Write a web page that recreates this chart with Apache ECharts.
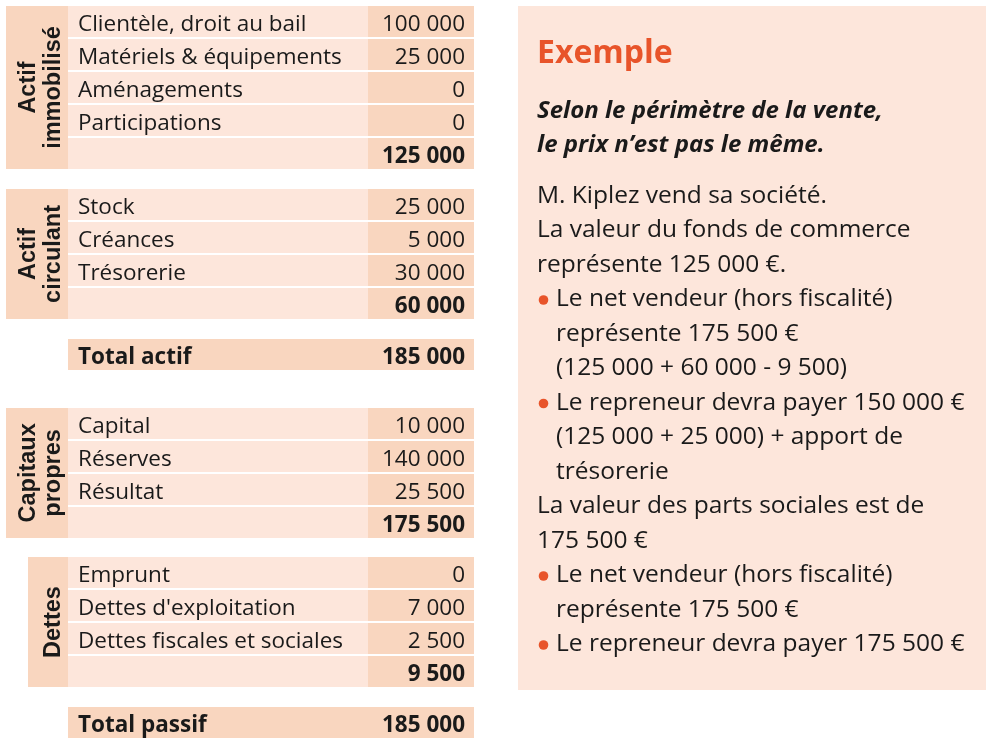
<!DOCTYPE html>
<html><head><meta charset="utf-8">
<script src="https://cdn.jsdelivr.net/npm/echarts@6/dist/echarts.min.js"></script>
<style>html,body{margin:0;padding:0;background:#fff}#c{width:995px;height:746px}</style>
</head><body><div id="c"></div>
<script>
// ---------- data ----------
const sectionTitles = ['Actif\nimmobilisé', 'Actif\ncirculant', 'Capitaux\npropres', 'Dettes'];
const sectionItems = [
  ['Clientèle, droit au bail', 'Matériels & équipements', 'Aménagements', 'Participations'],
  ['Stock', 'Créances', 'Trésorerie'],
  ['Capital', 'Réserves', 'Résultat'],
  ['Emprunt', "Dettes d'exploitation", 'Dettes fiscales et sociales']
];
const sectionValues = [
  [100000, 25000, 0, 0],
  [25000, 5000, 30000],
  [10000, 140000, 25500],
  [0, 7000, 2500]
];
const sectionTotals = [125000, 60000, 175500, 9500];
const grandTotalLabels = ['Total actif', 'Total passif'];
const grandTotalValues = [185000, 185000];

const exampleTitle = 'Exemple';
const exampleSubtitle = ['Selon le périmètre de la vente,', 'le prix n’est pas le même.'];
const exampleLines = [
  'M. Kiplez vend sa société.',
  'La valeur du fonds de commerce',
  'représente 125 000 €.',
  'Le net vendeur (hors fiscalité)',
  'représente 175 500 €',
  '(125 000 + 60 000 - 9 500)',
  'Le repreneur devra payer 150 000 €',
  '(125 000 + 25 000) + apport de',
  'trésorerie',
  'La valeur des parts sociales est de',
  '175 500 €',
  'Le net vendeur (hors fiscalité)',
  'représente 175 500 €',
  'Le repreneur devra payer 175 500 €'
];
const exampleIndent = [0, 0, 0, 1, 1, 1, 1, 1, 1, 0, 0, 1, 1, 1];
const exampleBullet = [0, 0, 0, 1, 0, 0, 1, 0, 0, 0, 0, 1, 0, 1];

// ---------- layout / style ----------
const LIGHT = '#fde6db', DARK = '#f9d6bf', ORANGE = '#e8542a', INK = '#1a1a1a';
const FONT = '"Open Sans"';
const HEAD_FONT = '"Liberation Sans", Arial';
const blockOrder = [['s', 0], ['s', 1], ['t', 0], ['s', 2], ['s', 3], ['t', 1]];
const blockGaps = [0, 0.545, 0.545, 1.09, 0.52, 0.545];
const headInset = [0, 0, 0, 22];
const COL = { head: 0, label: 62, value: 362, right: 468 };
const GAP = 2;

function fmt(n) { return String(n).replace(/\B(?=(\d{3})+(?!\d))/g, ' '); }

const rows = [];
let cursor = 0;
blockOrder.forEach(function (b, bi) {
  cursor += blockGaps[bi];
  if (b[0] === 's') {
    const s = b[1];
    const n = sectionItems[s].length + 1;
    rows.push([cursor, 2, s, 0, n]);
    sectionItems[s].forEach(function (_, i) { rows.push([cursor + i, 0, s, i, 1]); });
    rows.push([cursor + sectionItems[s].length, 1, s, 0, 1]);
    cursor += n;
  } else {
    rows.push([cursor, 3, b[1], 0, 1]);
    cursor += 1;
  }
});
const totalUnits = cursor;

function renderItem(params, api) {
  const y0 = api.coord([0, api.value(0)])[1];
  const pitch = api.size([0, 1])[1];
  const kind = api.value(1), s = api.value(2), i = api.value(3), span = api.value(4);
  const X = function (v) { return api.coord([v, 0])[0]; };
  const h = pitch * span - GAP;
  const mid = y0 + (pitch - GAP) / 2 + 3.5;
  const children = [];
  const txt = function (x, y, t, align, bold) {
    return { type: 'text', x: x, y: y, style: { text: t, fill: INK, align: align, verticalAlign: 'middle',
      font: (bold ? 'bold ' : '') + '22.5px ' + FONT } };
  };
  if (kind === 2) {
    const x0 = X(COL.head + headInset[s]);
    children.push({ type: 'rect', shape: { x: x0, y: y0, width: X(COL.label) - x0, height: h }, style: { fill: DARK } });
    const title = sectionTitles[s];
    const lines = title.split('\n').length;
    const cx = lines === 1 ? X(47.5) : X(35);
    children.push({ type: 'text', x: cx, y: y0 + h / 2, rotation: Math.PI / 2,
      style: { text: title, fill: INK, align: 'center', verticalAlign: 'middle', lineHeight: 25,
        font: 'bold 23.5px ' + HEAD_FONT } });
  } else if (kind === 3) {
    children.push({ type: 'rect', shape: { x: X(COL.label), y: y0, width: X(COL.right) - X(COL.label), height: h }, style: { fill: DARK } });
    children.push(txt(X(COL.label) + 10, mid, grandTotalLabels[s], 'left', true));
    children.push(txt(X(COL.right) - 9, mid, fmt(grandTotalValues[s]), 'right', true));
  } else {
    children.push({ type: 'rect', shape: { x: X(COL.label), y: y0, width: X(COL.value) - X(COL.label), height: h }, style: { fill: LIGHT } });
    children.push({ type: 'rect', shape: { x: X(COL.value), y: y0, width: X(COL.right) - X(COL.value), height: h }, style: { fill: DARK } });
    if (kind === 0) {
      children.push(txt(X(COL.label) + 10, mid, sectionItems[s][i], 'left', false));
      children.push(txt(X(COL.right) - 9, mid, fmt(sectionValues[s][i]), 'right', false));
    } else {
      children.push(txt(X(COL.right) - 9, mid, fmt(sectionTotals[s]), 'right', true));
    }
  }
  return { type: 'group', children: children };
}

const BOX = { x: 518, y: 6, w: 468, h: 684 };
const graphics = [{ type: 'rect', shape: { x: BOX.x, y: BOX.y, width: BOX.w, height: BOX.h }, style: { fill: LIGHT }, z: -1 }];
graphics.push({ type: 'text', x: 537, y: 54, style: { text: exampleTitle, fill: ORANGE, font: 'bold 32px ' + FONT, verticalAlign: 'middle' } });
exampleSubtitle.forEach(function (t, k) {
  graphics.push({ type: 'text', x: 537, y: 111 + k * 34.5, style: { text: t, fill: INK, font: 'italic bold 24px ' + FONT, verticalAlign: 'middle' } });
});
exampleLines.forEach(function (t, k) {
  const y = 196 + k * 34.5;
  graphics.push({ type: 'text', x: exampleIndent[k] ? 556 : 537, y: y, style: { text: t, fill: INK, font: '24.5px ' + FONT, verticalAlign: 'middle' } });
  if (exampleBullet[k]) {
    graphics.push({ type: 'circle', shape: { cx: 543.5, cy: y + 0.5, r: 4.8 }, style: { fill: ORANGE } });
  }
});

const chart = echarts.init(document.getElementById('c'), null, { renderer: 'canvas' });
chart.setOption({
  animation: false,
  backgroundColor: '#ffffff',
  grid: { left: 6, top: 6, width: 468, height: 734 },
  xAxis: { type: 'value', min: 0, max: COL.right, show: false },
  yAxis: { type: 'value', min: 0, max: totalUnits, inverse: true, show: false },
  graphic: graphics,
  series: [{ type: 'custom', renderItem: renderItem, data: rows, clip: false, silent: true }]
});
</script></body></html>
